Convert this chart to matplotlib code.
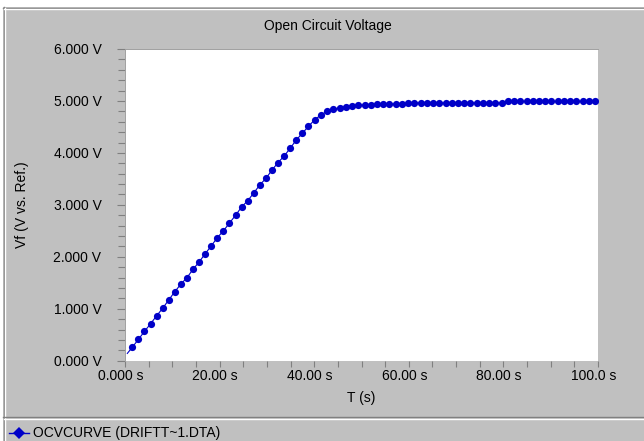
import matplotlib
matplotlib.use("Agg")
import matplotlib.pyplot as plt
import matplotlib.transforms as mtransforms
from matplotlib.lines import Line2D
from matplotlib.patches import Rectangle

# data
time_s = [0.49, 1.55, 2.83, 4.12, 5.40, 6.69, 7.97, 9.25, 10.54, 11.82, 13.11,
          14.39, 15.67, 16.96, 18.24, 19.53, 20.81, 22.09, 23.38, 24.66, 25.95,
          27.23, 28.51, 29.80, 31.08, 32.37, 33.65, 34.93, 36.22, 37.50, 38.79,
          40.11, 41.42, 42.74, 44.06, 45.38, 46.69, 48.01, 49.33, 50.64, 51.96,
          53.28, 54.60, 55.91, 57.23, 58.55, 59.86, 61.18, 62.50, 63.82, 65.13,
          66.45, 67.77, 69.08, 70.40, 71.72, 73.04, 74.35, 75.67, 76.99, 78.30,
          79.62, 80.94, 82.26, 83.57, 84.89, 86.21, 87.52, 88.84, 90.16, 91.48,
          92.79, 94.11, 95.43, 96.74, 98.06, 99.38]
voltage = [0.14, 0.26, 0.41, 0.565, 0.71, 0.865, 1.01, 1.17, 1.33, 1.475, 1.60,
           1.76, 1.90, 2.06, 2.21, 2.37, 2.50, 2.65, 2.80, 2.96, 3.08,
           3.23, 3.385, 3.51, 3.67, 3.815, 3.94, 4.09, 4.25, 4.38, 4.51,
           4.64, 4.73, 4.80, 4.84, 4.87, 4.885, 4.91, 4.92, 4.92, 4.92,
           4.94, 4.94, 4.94, 4.94, 4.94, 4.96, 4.96, 4.96, 4.96, 4.96,
           4.96, 4.96, 4.96, 4.96, 4.96, 4.96, 4.96, 4.96, 4.96, 4.96,
           4.96, 4.99, 4.99, 4.99, 4.99, 4.99, 4.99, 4.99, 4.99, 4.99,
           4.99, 4.99, 4.99, 4.99, 4.99, 4.99]

x_ticks = [0, 20, 40, 60, 80, 100]
x_tick_labels = ["0.000 s", "20.00 s", "40.00 s", "60.00 s", "80.00 s", "100.0 s"]
y_ticks = [0, 1, 2, 3, 4, 5, 6]
y_tick_labels = ["0.000 V", "1.000 V", "2.000 V", "3.000 V", "4.000 V", "5.000 V", "6.000 V"]

title = "Open Circuit Voltage"
x_label = "T (s)"
y_label = "Vf (V vs. Ref.)"
series_name = "OCVCURVE (DRIFTT~1.DTA)"

W, H = 644, 441
BLUE = "#0000c8"
PANEL = "#c0c0c0"
DARK = "#808080"

plt.rcParams["font.family"] = ["Liberation Sans", "DejaVu Sans"]
plt.rcParams["font.size"] = 10


def fx(px):
    return px / W


def fy(py):
    return 1 - py / H


fig = plt.figure(figsize=(W / 100, H / 100), dpi=100, facecolor="white")

# grey window panel with bevel lines
fig.add_artist(Rectangle((fx(3), 0), 1 - fx(3), fy(7), transform=fig.transFigure,
                         facecolor=PANEL, edgecolor="none", zorder=0))
for (x0, y0, x1, y1, c) in [(3, 7.5, W, 7.5, DARK), (3.5, 7, 3.5, H, DARK),
                            (4, 8.5, W, 8.5, "white"), (4.5, 8, 4.5, H, "white"),
                            (3, 417, W, 417, DARK), (4, 418.5, W, 418.5, "white")]:
    fig.add_artist(Line2D([fx(x0), fx(x1)], [fy(y0), fy(y1)], transform=fig.transFigure,
                          color=c, lw=1.0, zorder=1))

ax = fig.add_axes([fx(125), fy(360.7), fx(598) - fx(125), fy(49) - fy(360.7)])
ax.set_facecolor("white")
ax.plot(time_s, voltage, color=BLUE, lw=0.8, marker="o", ms=5.2,
        markevery=list(range(1, len(time_s))), markeredgewidth=0)

ax.set_xlim(0, 100)
ax.set_ylim(0, 6)
ax.set_xticks(x_ticks)
ax.set_xticklabels(x_tick_labels)
ax.set_xticks(range(0, 101, 5), minor=True)
ax.set_yticks(y_ticks)
ax.set_yticklabels(y_tick_labels)
ax.set_yticks([i * 0.2 for i in range(31)], minor=True)

ax.tick_params(axis="x", which="both", direction="out", length=4, width=0.8,
               color=DARK, pad=2)
ax.tick_params(axis="y", which="major", direction="out", length=6, width=0.8,
               color=DARK, pad=11)
ax.tick_params(axis="y", which="minor", direction="out", length=5, width=0.8,
               color=DARK)
shift = mtransforms.ScaledTranslation(-4.5 / 100, 0, fig.dpi_scale_trans)
for lbl in ax.get_xticklabels():
    lbl.set_transform(lbl.get_transform() + shift)

for side in ["right", "bottom"]:
    ax.spines[side].set_visible(False)
for side in ["top", "left"]:
    ax.spines[side].set_color("#a0a0a0")
    ax.spines[side].set_linewidth(0.7)

fig.text(fx(327.5), fy(26), title, ha="center", va="center")
fig.text(fx(361.5), fy(398), x_label, ha="center", va="center")
fig.text(fx(22), fy(205), y_label, ha="center", va="center", rotation=90)

# legend strip
fig.add_artist(Line2D([fx(9), fx(29)], [fy(433), fy(433)], transform=fig.transFigure,
                      color=BLUE, lw=1.0))
fig.add_artist(Line2D([fx(19)], [fy(433)], transform=fig.transFigure, color=BLUE,
                      marker="D", ms=6, markeredgewidth=0, linestyle="none"))
fig.text(fx(33), fy(433), series_name, ha="left", va="center")

fig.savefig("out.png", dpi=100, facecolor=fig.get_facecolor())
